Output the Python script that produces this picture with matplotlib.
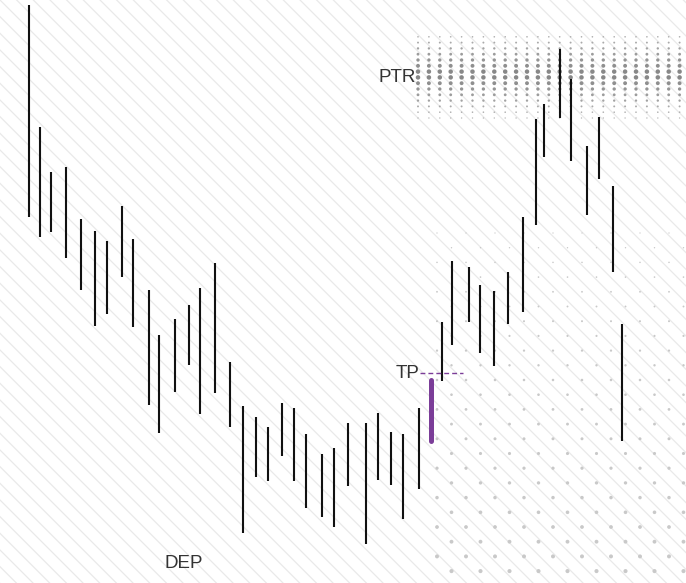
import numpy as np
import matplotlib
matplotlib.use("Agg")
import matplotlib.pyplot as plt
from matplotlib.patches import Rectangle

# ---- data ----
days = [29, 40, 51, 66, 81, 95, 107, 122, 133, 149, 159, 175, 189, 200, 215,
        230, 243, 256, 268, 282, 294, 306, 322, 334, 348, 366, 378, 391, 403, 419,
        442, 452, 469, 480, 494, 508, 523, 536, 544, 560, 571, 587, 599, 613, 622]
highs = [578, 456, 411, 416, 364, 352, 342, 377, 344, 293, 248, 264, 278, 295, 320,
         221, 177, 166, 156, 180, 175, 149, 129, 135, 160, 160, 170, 151, 149, 175,
         261, 322, 316, 298, 292, 311, 366, 464, 479, 534, 504, 437, 466, 397, 259]
lows = [366, 346, 351, 325, 293, 257, 269, 306, 256, 178, 150, 191, 218, 169, 190,
        156, 50, 106, 102, 127, 102, 75, 66, 56, 97, 39, 103, 98, 64, 94,
        202, 238, 261, 230, 217, 259, 271, 358, 426, 465, 422, 368, 404, 311, 142]
signal_day = 431
signal_high = 203
signal_low = 142
tp_level = 210
ptr_level = 508.5
labels = ["PTR", "TP", "DEP"]

W, H = 686, 583
fig = plt.figure(figsize=(W / 100, H / 100), dpi=100)
ax = fig.add_axes([0, 0, 1, 1])
ax.set_xlim(0, W)
ax.set_ylim(0, H)
ax.axis("off")

plt.rcParams["hatch.linewidth"] = 0.9
bg = Rectangle((0, 0), 1, 1, transform=ax.transAxes, facecolor="white",
               edgecolor="#e9e9e9", linewidth=0, hatch="\\\\", zorder=0)
ax.add_patch(bg)

def pt2(dpx):
    return (np.asarray(dpx) * 0.72) ** 2

# lower-right dot field
rows_v = np.arange(350, -5, -14.7)
xs, ys, ss = [], [], []
for i, v in enumerate(rows_v):
    x0 = 437 if i % 2 == 0 else 451.5
    for x in np.arange(x0, W + 5, 29):
        xs.append(x)
        ys.append(v)
        ss.append(1.3 + 2.9 * (350 - v) / 350)
ax.scatter(xs, ys, s=pt2(ss), color="#c9c9c9", linewidths=0, zorder=1)

# PTR dot band
offs = (np.arange(-7, 8) + 0.0) * 5.8 - 2.9
xs, ys, ss, cs = [], [], [], []
for o in offs:
    frac = max(0.0, 1 - abs(o) / 44.0)
    for x in np.arange(418, W + 5, 10.9):
        xs.append(x)
        ys.append(ptr_level + o)
        ss.append(1.4 + 3.4 * frac ** 1.4)
        g = 0.52 + 0.2 * (1 - frac)
        cs.append((g, g, g))
ax.scatter(xs, ys, s=pt2(ss), c=cs, linewidths=0, zorder=1)

# bars
ax.vlines(days, lows, highs, color="#111111", linewidth=1.5, zorder=3)
ax.vlines([signal_day], [signal_low], [signal_high], color="#7b3d98",
          linewidth=3.6, capstyle="round", zorder=4)
ax.hlines([tp_level], 420, 463, color="#7b3d98", linewidth=1.0,
          linestyles=(0, (3.5, 2.2)), zorder=4)

font = dict(family=["Liberation Sans", "DejaVu Sans"], fontsize=13.5, color="#333333")
ax.text(415.5, ptr_level - 3, labels[0], ha="right", va="center", zorder=5, **font)
ax.text(420, tp_level, labels[1], ha="right", va="center", zorder=5, **font)
ax.text(164, 20, labels[2], ha="left", va="center", zorder=5, **font)

fig.savefig("out.png", dpi=100)
